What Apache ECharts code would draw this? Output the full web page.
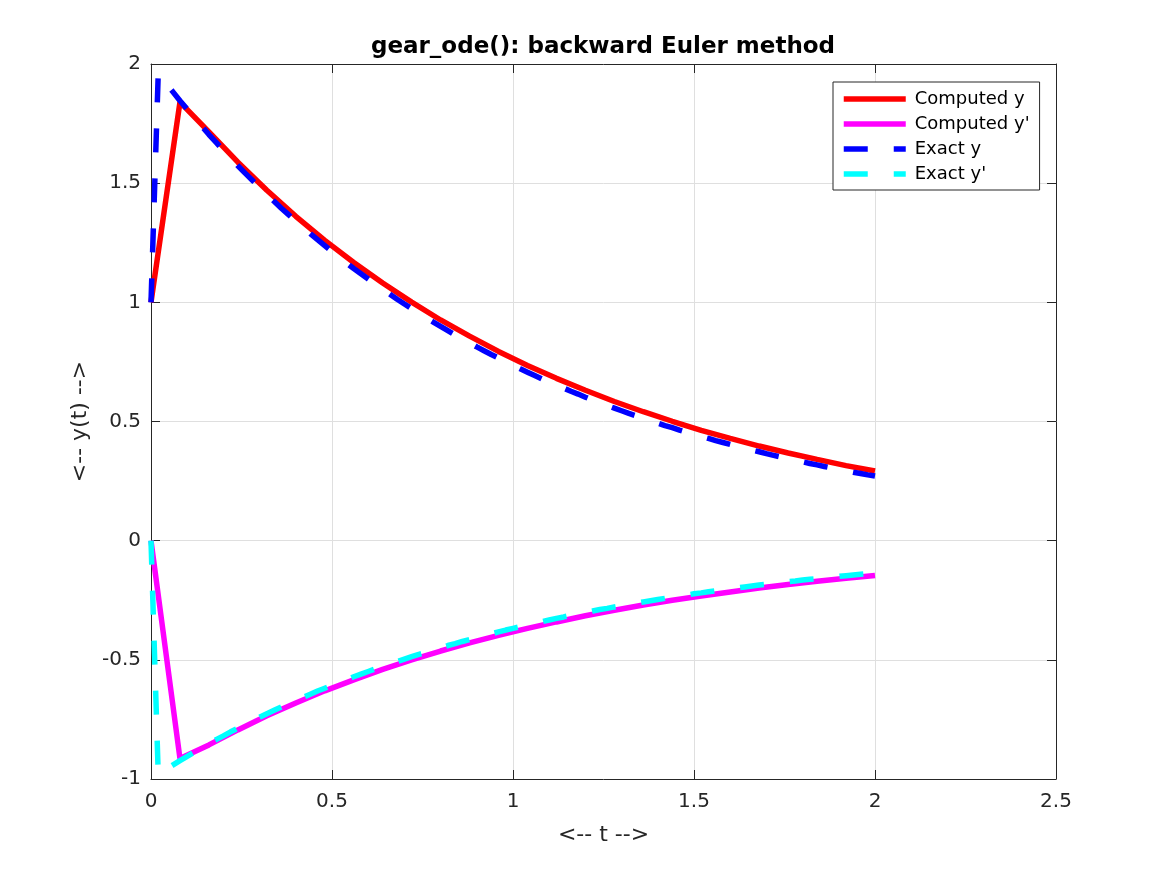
<!DOCTYPE html>
<html>
<head>
<meta charset="utf-8">
<title>gear_ode(): backward Euler method</title>
<script src="https://cdn.jsdelivr.net/npm/echarts@6/dist/echarts.min.js"></script>
<style>
  html, body { margin: 0; padding: 0; background: #fff; }
  #chart-container { width: 1167px; height: 875px; }
</style>
</head>
<body>
<div id="chart-container"></div>
<script>
// backward Euler steps (h = 0.08)
let tComp = [0, 0.08, 0.16, 0.24, 0.32, 0.40, 0.48, 0.56, 0.64, 0.72,
    0.80, 0.88, 0.96, 1.04, 1.12, 1.20, 1.28, 1.36, 1.44, 1.52,
    1.60, 1.68, 1.76, 1.84, 1.92, 2.00];
let compY = [1.000, 1.840, 1.715, 1.588, 1.470, 1.361, 1.260, 1.167, 1.081, 1.001,
    0.926, 0.858, 0.794, 0.735, 0.681, 0.631, 0.584, 0.541, 0.501, 0.463,
    0.429, 0.397, 0.368, 0.341, 0.315, 0.292];
let compYp = [0.000, -0.914, -0.857, -0.794, -0.735, -0.681, -0.630, -0.584, -0.540, -0.500,
    -0.463, -0.429, -0.397, -0.368, -0.341, -0.315, -0.292, -0.270, -0.250, -0.232,
    -0.215, -0.199, -0.184, -0.170, -0.158, -0.146];

// exact solution, fine grid
let tExact = [0,
    0.02, 0.04, 0.06, 0.08, 0.10, 0.12, 0.14, 0.16, 0.18, 0.20,
    0.22, 0.24, 0.26, 0.28, 0.30, 0.32, 0.34, 0.36, 0.38, 0.40,
    0.42, 0.44, 0.46, 0.48, 0.50, 0.52, 0.54, 0.56, 0.58, 0.60,
    0.62, 0.64, 0.66, 0.68, 0.70, 0.72, 0.74, 0.76, 0.78, 0.80,
    0.82, 0.84, 0.86, 0.88, 0.90, 0.92, 0.94, 0.96, 0.98, 1.00,
    1.02, 1.04, 1.06, 1.08, 1.10, 1.12, 1.14, 1.16, 1.18, 1.20,
    1.22, 1.24, 1.26, 1.28, 1.30, 1.32, 1.34, 1.36, 1.38, 1.40,
    1.42, 1.44, 1.46, 1.48, 1.50, 1.52, 1.54, 1.56, 1.58, 1.60,
    1.62, 1.64, 1.66, 1.68, 1.70, 1.72, 1.74, 1.76, 1.78, 1.80,
    1.82, 1.84, 1.86, 1.88, 1.90, 1.92, 1.94, 1.96, 1.98, 2.00];
let exactY = [1.000,
    1.960, 1.922, 1.884, 1.846, 1.810, 1.774, 1.739, 1.704, 1.671, 1.637,
    1.605, 1.573, 1.542, 1.512, 1.482, 1.452, 1.424, 1.395, 1.368, 1.341,
    1.314, 1.288, 1.263, 1.238, 1.213, 1.189, 1.165, 1.142, 1.120, 1.098,
    1.076, 1.055, 1.034, 1.013, 0.993, 0.974, 0.954, 0.935, 0.917, 0.899,
    0.881, 0.863, 0.846, 0.830, 0.813, 0.797, 0.781, 0.766, 0.751, 0.736,
    0.721, 0.707, 0.693, 0.679, 0.666, 0.653, 0.640, 0.627, 0.615, 0.602,
    0.590, 0.579, 0.567, 0.556, 0.545, 0.534, 0.524, 0.513, 0.503, 0.493,
    0.483, 0.474, 0.464, 0.455, 0.446, 0.437, 0.429, 0.420, 0.412, 0.404,
    0.396, 0.388, 0.380, 0.373, 0.365, 0.358, 0.351, 0.344, 0.337, 0.331,
    0.324, 0.318, 0.311, 0.305, 0.299, 0.293, 0.287, 0.282, 0.276, 0.271];
let exactYp = [0.000,
    -0.980, -0.961, -0.942, -0.923, -0.905, -0.887, -0.869, -0.852, -0.835, -0.819,
    -0.802, -0.787, -0.771, -0.756, -0.741, -0.726, -0.712, -0.698, -0.684, -0.670,
    -0.657, -0.644, -0.631, -0.619, -0.607, -0.595, -0.583, -0.571, -0.560, -0.549,
    -0.538, -0.527, -0.517, -0.507, -0.497, -0.487, -0.477, -0.468, -0.458, -0.449,
    -0.440, -0.432, -0.423, -0.415, -0.407, -0.399, -0.391, -0.383, -0.375, -0.368,
    -0.361, -0.353, -0.346, -0.340, -0.333, -0.326, -0.320, -0.313, -0.307, -0.301,
    -0.295, -0.289, -0.284, -0.278, -0.273, -0.267, -0.262, -0.257, -0.252, -0.247,
    -0.242, -0.237, -0.232, -0.228, -0.223, -0.219, -0.214, -0.210, -0.206, -0.202,
    -0.198, -0.194, -0.190, -0.186, -0.183, -0.179, -0.176, -0.172, -0.169, -0.165,
    -0.162, -0.159, -0.156, -0.153, -0.150, -0.147, -0.144, -0.141, -0.138, -0.135];

let seriesNames = ['Computed y', "Computed y'", 'Exact y', "Exact y'"];
let seriesColors = ['#ff0000', '#ff00ff', '#0000ff', '#00ffff'];

function pairs(ts, ys) {
    return ts.map(function(t, i) { return [t, ys[i]]; });
}

let dom = document.getElementById('chart-container');
let myChart = echarts.init(dom, null, { renderer: 'canvas' });

const FONT = 'DejaVu Sans';
const AXIS_COLOR = '#262626';
const DASH = [24, 26];

function mkLine(idx, data, dashed) {
    return {
        name: seriesNames[idx],
        type: 'line',
        data: data,
        symbol: 'none',
        smooth: false,
        animation: false,
        color: seriesColors[idx],
        lineStyle: {
            color: seriesColors[idx],
            width: 5.5,
            type: dashed ? DASH : 'solid',
            cap: 'butt'
        }
    };
}

// plain frame axis: line + inward ticks, no labels
let frameAxis = {
    type: 'value',
    axisLine: { show: true, onZero: false, lineStyle: { color: AXIS_COLOR, width: 1 } },
    axisTick: { show: true, inside: true, length: 9, lineStyle: { color: AXIS_COLOR } },
    axisLabel: { show: false },
    splitLine: { show: false }
};

let option = {
    backgroundColor: '#ffffff',
    animation: false,
    title: {
        text: 'gear_ode(): backward Euler method',
        left: 598,
        top: 31,
        textAlign: 'center',
        textStyle: { fontFamily: FONT, fontSize: 23, fontWeight: 'bold', color: '#000' }
    },
    grid: { left: 151, right: 111, top: 64, bottom: 96, containLabel: false },
    legend: {
        orient: 'vertical',
        left: 833,
        top: 82,
        padding: [8, 10, 7, 8],
        itemWidth: 62,
        itemHeight: 14,
        itemGap: 7,
        borderColor: AXIS_COLOR,
        borderWidth: 1,
        backgroundColor: '#ffffff',
        borderRadius: 0,
        itemStyle: { opacity: 0, borderWidth: 0 },
        lineStyle: { width: 5.5 },
        textStyle: { fontFamily: FONT, fontSize: 18, lineHeight: 14, color: '#000', padding: [0, 0, 0, 4] },
        data: seriesNames
    },
    xAxis: [
        Object.assign({}, frameAxis, {
            min: 0, max: 2.5, interval: 0.5,
            position: 'bottom',
            name: '<-- t -->',
            nameLocation: 'middle',
            nameGap: 45,
            nameTextStyle: { fontFamily: FONT, fontSize: 22, color: AXIS_COLOR },
            axisLabel: { show: true, margin: 13, fontFamily: FONT, fontSize: 20, color: AXIS_COLOR },
            splitLine: { show: true, lineStyle: { color: '#dfdfdf', width: 1 } }
        }),
        Object.assign({}, frameAxis, { min: 0, max: 2.5, interval: 0.5, position: 'top' })
    ],
    yAxis: [
        Object.assign({}, frameAxis, {
            min: -1, max: 2, interval: 0.5,
            position: 'left',
            name: '<-- y(t) -->',
            nameLocation: 'middle',
            nameGap: 50,
            nameRotate: 90,
            nameTextStyle: { fontFamily: FONT, fontSize: 22, color: AXIS_COLOR },
            axisLabel: { show: true, margin: 10, fontFamily: FONT, fontSize: 20, color: AXIS_COLOR },
            splitLine: { show: true, lineStyle: { color: '#dfdfdf', width: 1 } }
        }),
        Object.assign({}, frameAxis, { min: -1, max: 2, interval: 0.5, position: 'right' })
    ],
    series: [
        mkLine(0, pairs(tComp, compY), false),
        mkLine(1, pairs(tComp, compYp), false),
        mkLine(2, pairs(tExact, exactY), true),
        mkLine(3, pairs(tExact, exactYp), true)
    ]
};

myChart.setOption(option);

window.addEventListener('resize', myChart.resize);
</script>
</body>
</html>
